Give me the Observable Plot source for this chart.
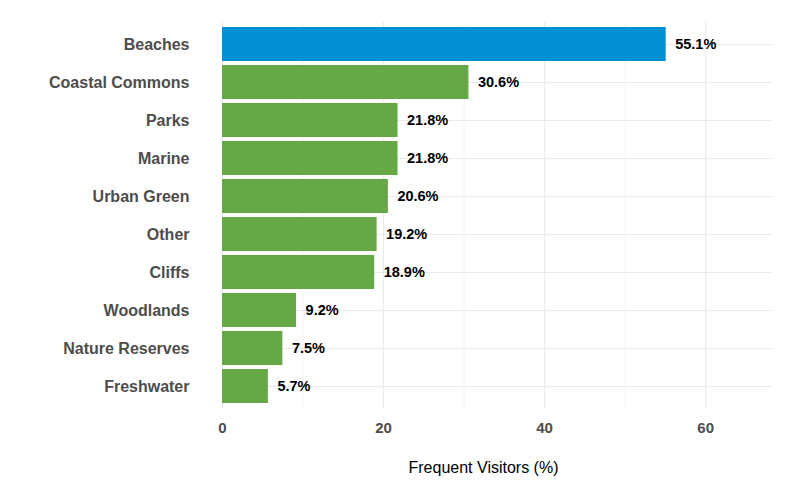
<!DOCTYPE html>
<html><head>
<script src="https://cdn.jsdelivr.net/npm/d3@7"></script>
<script src="https://cdn.jsdelivr.net/npm/@observablehq/plot@0.6"></script>
<style>body{margin:0;background:#fff;font-family:"Liberation Sans",Arial,sans-serif}</style>
</head><body><div id="c"></div>
<script>
const categories = ["Beaches","Coastal Commons","Parks","Marine","Urban Green","Other","Cliffs","Woodlands","Nature Reserves","Freshwater"];
const values = [55.1,30.6,21.8,21.8,20.6,19.2,18.9,9.2,7.5,5.7];
const xTicks = [0,20,40,60];
const data = categories.map((c,i)=>({c,v:values[i]}));
const chart = Plot.plot({
  width:796,height:485,marginLeft:222,marginRight:24,marginTop:22,marginBottom:77,
  style:{fontFamily:"Liberation Sans, Arial, sans-serif"},
  x:{domain:[0,68.3],ticks:xTicks,label:null,tickSize:0},
  y:{domain:categories,padding:0.1,label:null,tickSize:0},
  marks:[
    Plot.gridX([10,30,50],{stroke:"#ebebeb",strokeOpacity:1,strokeWidth:0.6}),
    Plot.gridX(xTicks,{stroke:"#ebebeb",strokeOpacity:1,strokeWidth:1}),
    Plot.gridY(categories,{stroke:"#ebebeb",strokeOpacity:1}),
    Plot.barX(data,{x:"v",y:"c",fill:d=>d.c==="Beaches"?"#0390d4":"#66a845"}),
    Plot.text(data,{x:"v",y:"c",text:d=>d.v.toFixed(1)+"%",textAnchor:"start",dx:9,fontWeight:"bold",fontSize:14.5,fill:"#000"}),
    Plot.axisX({ticks:xTicks,tickSize:0,tickPadding:14,fontSize:15,fontWeight:"bold",fill:"#4d4d4d",label:null}),
    Plot.axisY({tickSize:0,tickPadding:33,fontSize:16,fontWeight:"bold",fill:"#4d4d4d",label:null}),
    Plot.text(["Frequent Visitors (%)"],{frameAnchor:"bottom",dy:64,dx:-14,fontSize:16,fill:"#000"})
  ]
});
document.getElementById("c").append(chart);
</script></body></html>
